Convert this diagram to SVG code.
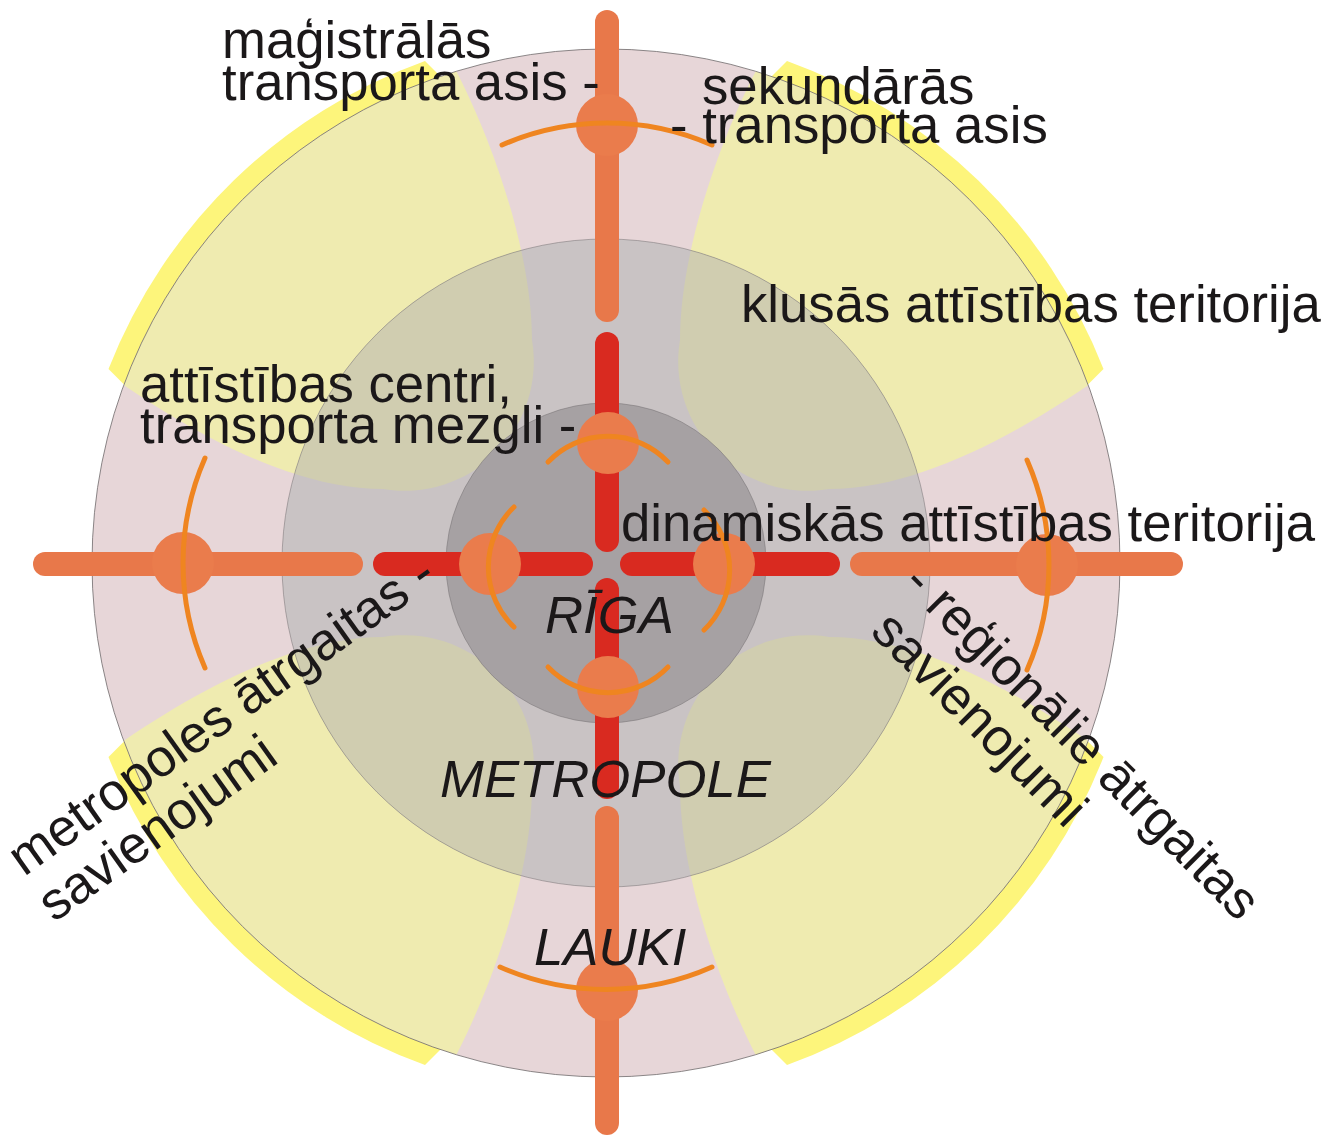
<svg xmlns="http://www.w3.org/2000/svg" width="1328" height="1139" viewBox="0 0 1328 1139">
<style>
.t{font-family:"Liberation Sans",Arial,sans-serif;font-size:52.7px;fill:#1b1819}
.i{font-style:italic}
.bar{fill:none;stroke-width:24;stroke-linecap:round}
.o{stroke:#e8784a}
.r{stroke:#d92a20}
.node{fill:#ea7c4c}
.arc{fill:none;stroke:#ef8520;stroke-width:5;stroke-linecap:round}
.ring{fill:none;stroke:#6e6a6b;stroke-width:0.8}
</style>
<defs>
<path id="lobe" d="M445,50 C490,130 532,250 532,340 A129.3,129.3 0 0 1 383,489 C290,489 185,430 95,365 L60,60 Z"/>
<path id="band" d="M425,61 A534,534 0 0 0 108.5,369 L148.5,409 L465,101 Z"/>
<clipPath id="cO"><circle cx="606" cy="563" r="514"/></clipPath>
<clipPath id="cM"><circle cx="606" cy="563" r="324"/></clipPath>
</defs>
<rect width="1328" height="1139" fill="#ffffff"/>
<g id="bands" fill="#fdf57b">
<use href="#band"/>
<use href="#band" transform="translate(1212,0) scale(-1,1)"/>
<use href="#band" transform="translate(0,1126) scale(1,-1)"/>
<use href="#band" transform="translate(1212,1126) scale(-1,-1)"/>
</g>
<g id="lauki"><circle cx="606" cy="563" r="514" fill="#e7d6d8"/></g>
<g id="lobes-lauki" clip-path="url(#cO)" fill="#efebb0">
<use href="#lobe"/>
<use href="#lobe" transform="translate(1212,0) scale(-1,1)"/>
<use href="#lobe" transform="translate(0,1126) scale(1,-1)"/>
<use href="#lobe" transform="translate(1212,1126) scale(-1,-1)"/>
</g>
<g id="metropole"><circle cx="606" cy="563" r="324" fill="#c9c3c4"/></g>
<g id="lobes-metropole" clip-path="url(#cM)" fill="#d0cdb0">
<use href="#lobe"/>
<use href="#lobe" transform="translate(1212,0) scale(-1,1)"/>
<use href="#lobe" transform="translate(0,1126) scale(1,-1)"/>
<use href="#lobe" transform="translate(1212,1126) scale(-1,-1)"/>
</g>
<g id="ring-lines">
<circle class="ring" cx="606" cy="563" r="514"/>
<circle class="ring" cx="606" cy="563" r="324" stroke-opacity="0.6"/>
</g>
<g id="riga"><circle cx="606" cy="563" r="160" fill="#a6a1a3" stroke="#6e6a6b" stroke-width="0.8" stroke-opacity="0.6"/></g>
<g id="connectors">
<line class="bar o" x1="607" y1="22" x2="607" y2="310"/>
<line class="bar r" x1="607" y1="344" x2="607" y2="540"/>
<line class="bar r" x1="607" y1="590" x2="607" y2="787"/>
<line class="bar o" x1="607" y1="818" x2="607" y2="1123"/>
<line class="bar o" x1="45" y1="564" x2="351" y2="564"/>
<line class="bar r" x1="385" y1="564" x2="581" y2="564"/>
<line class="bar r" x1="632" y1="564" x2="828" y2="564"/>
<line class="bar o" x1="862" y1="564" x2="1171" y2="564"/>
</g>
<g id="node-top-outer"><circle class="node" cx="607" cy="125" r="31"/><path class="arc" d="M502,145 A262,262 0 0 1 712,145"/></g>
<g id="node-bottom-outer"><circle class="node" cx="607" cy="990" r="31"/><path class="arc" d="M500,967 A262,262 0 0 0 712,967"/></g>
<g id="node-left-outer"><circle class="node" cx="183" cy="563" r="31"/><path class="arc" d="M205,458 A262,262 0 0 0 205,668"/></g>
<g id="node-right-outer"><circle class="node" cx="1047" cy="565" r="31"/><path class="arc" d="M1027,460 A262,262 0 0 1 1027,670"/></g>
<g id="node-top-inner"><circle class="node" cx="608" cy="443" r="31"/><path class="arc" d="M548,462 A83,83 0 0 1 668,462"/></g>
<g id="node-bottom-inner"><circle class="node" cx="608" cy="687" r="31"/><path class="arc" d="M548,667 A83,83 0 0 0 668,667"/></g>
<g id="node-left-inner"><circle class="node" cx="490" cy="564" r="31"/><path class="arc" d="M514,507 A83,83 0 0 0 514,627"/></g>
<g id="node-right-inner"><circle class="node" cx="724" cy="564" r="31"/><path class="arc" d="M704,510 A83,83 0 0 1 704,630"/></g>
<g id="labels">
<text class="t" x="222" y="58">maģistrālās</text>
<text class="t" x="222" y="100">transporta asis -</text>
<text class="t" x="702" y="104">sekundārās</text>
<text class="t" x="670" y="143">- transporta asis</text>
<text class="t" x="741" y="322">klusās attīstības teritorija</text>
<text class="t" x="140" y="402">attīstības centri,</text>
<text class="t" x="140" y="443">transporta mezgli -</text>
<text class="t" x="621" y="541">dinamiskās attīstības teritorija</text>
<text class="t i" x="545" y="633">RĪGA</text>
<text class="t i" x="440" y="797">METROPOLE</text>
<text class="t i" x="534" y="965">LAUKI</text>
<text class="t" transform="translate(24,877) rotate(-35.5)">metropoles ātrgaitas -</text>
<text class="t" transform="translate(54,923) rotate(-35.5)">savienojumi</text>
<text class="t" transform="translate(901,585) rotate(45)">- reģionālie ātrgaitas</text>
<text class="t" transform="translate(869,633) rotate(45)">savienojumi</text>
</g>
</svg>
